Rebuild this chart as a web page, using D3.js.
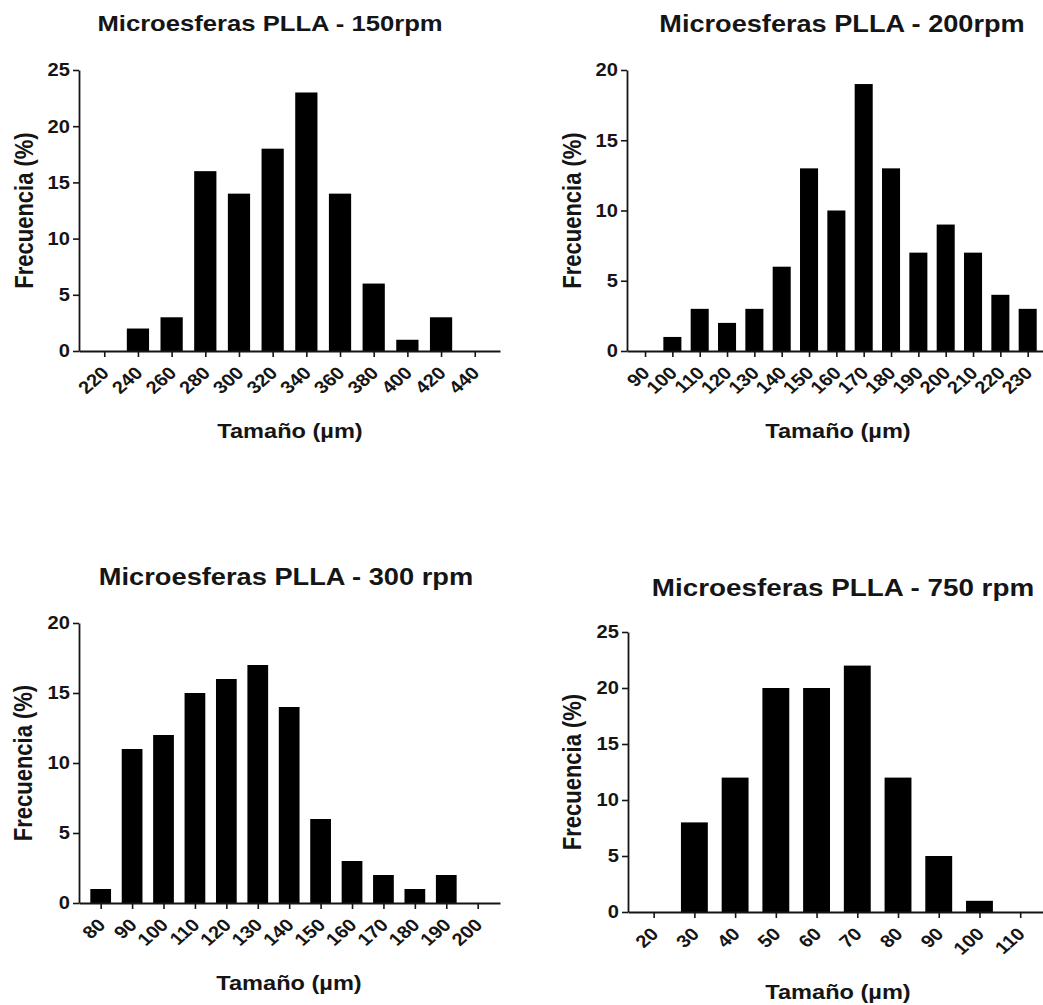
<!DOCTYPE html>
<html>
<head>
<meta charset="utf-8">
<script src="https://cdn.jsdelivr.net/npm/d3@7"></script>
<style>
  html, body { margin: 0; padding: 0; background: #fff; }
  svg text { font-family: "Liberation Sans", Arial, sans-serif; font-weight: bold; fill: #151515; }
</style>
</head>
<body>
<svg id="chart" width="1043" height="1005"></svg>
<script>
// data (frecuencia %, per size class)
const sizes150 = [220, 240, 260, 280, 300, 320, 340, 360, 380, 400, 420, 440]
const freq150  = [0, 2, 3, 16, 14, 18, 23, 14, 6, 1, 3, 0]

const sizes200 = [90, 100, 110, 120, 130, 140, 150, 160, 170, 180, 190, 200, 210, 220, 230]
const freq200  = [0, 1, 3, 2, 3, 6, 13, 10, 19, 13, 7, 9, 7, 4, 3]

const sizes300 = [80, 90, 100, 110, 120, 130, 140, 150, 160, 170, 180, 190, 200]
const freq300  = [1, 11, 12, 15, 16, 17, 14, 6, 3, 2, 1, 2, 0]

const sizes750 = [20, 30, 40, 50, 60, 70, 80, 90, 100, 110]
const freq750  = [0, 8, 12, 20, 20, 22, 12, 5, 1, 0]

const titles = ["Microesferas PLLA - 150rpm", "Microesferas PLLA - 200rpm",
                "Microesferas PLLA - 300 rpm", "Microesferas PLLA - 750 rpm"]
const yTicks25 = [0, 5, 10, 15, 20, 25]
const yTicks20 = [0, 5, 10, 15, 20]

// the picture is a bit wider than tall, so text is stretched sideways
const SX = 1.15

const svg = d3.select("#chart")

// panel layout
const panels = [
  { sizes: sizes150, freq: freq150, title: titles[0], step: 20, yMax: 25, yTicks: yTicks25,
    x0: 79, x1: 500, yTop: 70, yBot: 351, xDom: [205, 455],
    titleX: 270, titleY: 31, titleSize: 22.3, xlabX: 290, xlabY: 438, ylabX: 33 },
  { sizes: sizes200, freq: freq200, title: titles[1], step: 10, yMax: 20, yTicks: yTicks20,
    x0: 627, x1: 1043, yTop: 70, yBot: 351, xDom: [83.4, 235.6],
    titleX: 842, titleY: 31.5, titleSize: 23.6, xlabX: 838, xlabY: 438, ylabX: 581 },
  { sizes: sizes300, freq: freq300, title: titles[2], step: 10, yMax: 20, yTicks: yTicks20,
    x0: 79, x1: 500, yTop: 623, yBot: 903, xDom: [73.1, 207.1],
    titleX: 286, titleY: 585, titleSize: 23.7, xlabX: 289, xlabY: 990, ylabX: 32 },
  { sizes: sizes750, freq: freq750, title: titles[3], step: 10, yMax: 25, yTicks: yTicks25,
    x0: 628, x1: 1043, yTop: 632, yBot: 912, xDom: [13.7, 115.6],
    titleX: 843, titleY: 596, titleSize: 24.2, xlabX: 838, xlabY: 999, ylabX: 581 }
]

function stretchedText(g, x, y, str, size, angle, anchor) {
  return g.append("text")
    .attr("transform", `translate(${x},${y}) scale(${SX},1) rotate(${angle || 0})`)
    .attr("text-anchor", anchor || "middle")
    .style("font-size", size + "px")
    .text(str)
}

panels.forEach(p => {
  const g = svg.append("g")

  const x = d3.scaleLinear().domain(p.xDom).range([p.x0, p.x1])
  const y = d3.scaleLinear().domain([0, p.yMax]).range([p.yBot, p.yTop])
  const bw = x(p.step * 0.66) - x(0)

  // bars
  g.selectAll("rect.bar")
    .data(p.sizes.map((s, i) => ({ s: s, v: p.freq[i] })).filter(d => d.v > 0))
    .enter().append("rect")
    .attr("class", "bar")
    .attr("x", d => x(d.s) - bw / 2)
    .attr("width", bw)
    .attr("y", d => y(d.v))
    .attr("height", d => y(0) - y(d.v))
    .attr("fill", "#000")

  // y axis
  const ya = g.append("g")
    .attr("transform", `translate(${p.x0},0)`)
    .call(d3.axisLeft(y).tickValues(p.yTicks).tickSize(6).tickSizeOuter(0))
  ya.select(".domain").attr("stroke", "#151515").attr("stroke-width", 1.8)
  ya.selectAll(".tick line").attr("stroke", "#151515").attr("stroke-width", 1.6)
  ya.selectAll(".tick text").remove()
  p.yTicks.forEach(t => {
    stretchedText(g, p.x0 - 9, y(t) + 6.3, t, 17.5, 0, "end")
  })

  // x axis
  const xa = g.append("g")
    .attr("transform", `translate(0,${p.yBot})`)
    .call(d3.axisBottom(x).tickValues(p.sizes).tickSize(6).tickSizeOuter(0))
  xa.select(".domain").attr("stroke", "#151515").attr("stroke-width", 1.8)
  xa.selectAll(".tick line").attr("stroke", "#151515").attr("stroke-width", 1.6)
  xa.selectAll(".tick text").remove()
  p.sizes.forEach(s => {
    stretchedText(g, x(s) + 6, p.yBot + 23, s, 17.5, -45, "end")
  })

  // titles and axis labels
  stretchedText(g, p.titleX, p.titleY, p.title, p.titleSize, 0, "middle")
  stretchedText(g, p.xlabX, p.xlabY, "Tamaño (µm)", 20.5, 0, "middle")
  stretchedText(g, p.ylabX, (p.yTop + p.yBot) / 2, "Frecuencia (%)", 22, -90, "middle")
})
</script>
</body>
</html>
